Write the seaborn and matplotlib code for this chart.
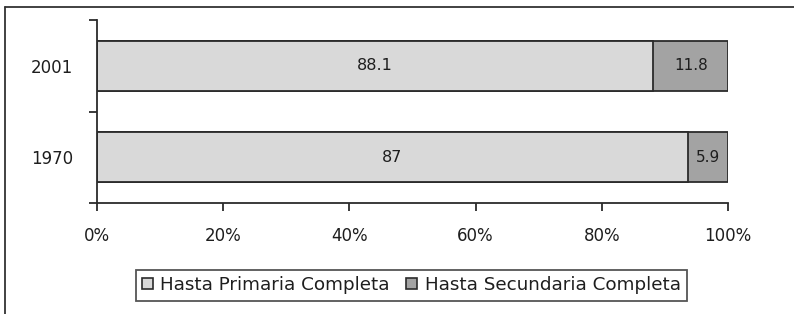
import numpy as np
import pandas as pd
import matplotlib
matplotlib.use("Agg")
import matplotlib.pyplot as plt
from matplotlib.lines import Line2D
from matplotlib.patches import Patch
import seaborn as sns

# data
years = ["2001", "1970"]
primaria = [88.1, 87.0]
secundaria = [11.8, 5.9]
series_names = ["Hasta Primaria Completa", "Hasta Secundaria Completa"]
x_ticks = [0, 20, 40, 60, 80, 100]

col_prim = "#d9d9d9"
col_sec = "#a3a3a3"
edge = "#2b2b2b"
txt = "#1e1e1e"

# 100% stacked: shares of each row total
df = pd.DataFrame({"year": years, "prim": primaria, "sec": secundaria})
df["total"] = df["prim"] + df["sec"]
df["prim_pct"] = df["prim"] / df["total"] * 100
df["full"] = 100.0

sns.set_style("ticks")
plt.rcParams["font.family"] = ["DejaVu Sans"]

fig = plt.figure(figsize=(7.94, 3.14), dpi=100)
ax = fig.add_axes([97 / 794, 1 - 203 / 314, (728 - 97) / 794, (203 - 20) / 314])

# dark segment underneath spans the whole bar, light segment on top
sns.barplot(data=df, x="full", y="year", order=years, orient="h", color=col_sec,
            saturation=1, width=0.55, edgecolor=edge, linewidth=1.3, ax=ax)
sns.barplot(data=df, x="prim_pct", y="year", order=years, orient="h", color=col_prim,
            saturation=1, width=0.55, edgecolor=edge, linewidth=1.3, ax=ax)

for i, row in df.iterrows():
    ax.text(row["prim_pct"] / 2, i, f"{row['prim']:g}", ha="center", va="center",
            fontsize=11.5, color=txt)
    ax.text((row["prim_pct"] + 100) / 2, i, f"{row['sec']:g}", ha="center", va="center",
            fontsize=11, color=txt)

ax.set_xlim(0, 100)
ax.set_ylim(1.5, -0.5)
ax.set_xticks(x_ticks)
ax.set_xticklabels([f"{t}%" for t in x_ticks], fontsize=12, color=txt)
ax.set_yticks(range(len(years)))
ax.set_yticklabels(years, fontsize=12, color=txt)
ax.set_yticks([-0.5, 0.5, 1.5], minor=True)
ax.tick_params(axis="y", which="major", left=False, length=0, pad=17)
ax.tick_params(axis="y", which="minor", left=True, length=6, width=1.3, color=edge,
               direction="out")
ax.tick_params(axis="x", bottom=True, length=6, width=1.3, color=edge, direction="out",
               pad=11)
ax.set_xlabel("")
ax.set_ylabel("")
for s in ["top", "right"]:
    ax.spines[s].set_visible(False)
for s in ["left", "bottom"]:
    ax.spines[s].set_color(edge)
    ax.spines[s].set_linewidth(1.3)

handles = [Patch(facecolor=col_prim, edgecolor=edge, linewidth=1.2),
           Patch(facecolor=col_sec, edgecolor=edge, linewidth=1.2)]
leg = fig.legend(handles, series_names, loc="center", bbox_to_anchor=(0.518, 0.092),
                 ncol=2, fontsize=13.2, frameon=True, fancybox=False, handlelength=0.6,
                 handleheight=0.6, handletextpad=0.4, columnspacing=0.9,
                 borderpad=0.35, borderaxespad=0, labelcolor=txt)
leg.get_frame().set_edgecolor(edge)
leg.get_frame().set_linewidth(1.3)

# outer frame of the figure (left and top lines visible)
fig.add_artist(Line2D([5 / 794, 5 / 794], [0, 1 - 7 / 314], transform=fig.transFigure,
                      color="#333333", linewidth=1.3))
fig.add_artist(Line2D([5 / 794, 1], [1 - 7 / 314, 1 - 7 / 314], transform=fig.transFigure,
                      color="#333333", linewidth=1.3))

fig.savefig("out.png", dpi=100, facecolor="white")
